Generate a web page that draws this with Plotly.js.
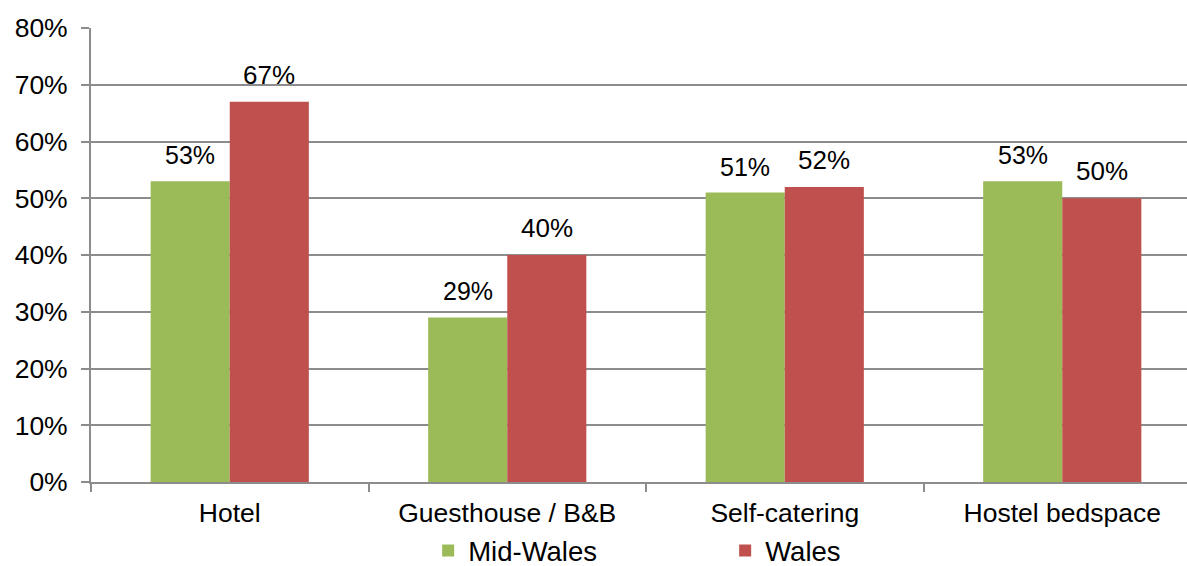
<!DOCTYPE html>
<html>
<head>
<meta charset="utf-8">
<script src="https://cdn.plot.ly/plotly-3.0.1.min.js"></script>
<style>
html,body{margin:0;padding:0;overflow:hidden;background:#fff;width:1187px;height:566px;}
#chart{width:1201px;height:575px;}
</style>
</head>
<body>
<div id="chart"></div>
<script>
var categories = ["Hotel", "Guesthouse / B&B", "Self-catering", "Hostel bedspace"];
var midWales = [0.53, 0.29, 0.51, 0.53];
var wales = [0.67, 0.40, 0.52, 0.50];
var seriesNames = ["Mid-Wales", "Wales"];
var yTicks = [0, 0.1, 0.2, 0.3, 0.4, 0.5, 0.6, 0.7, 0.8];
var yTickLabels = ["0%", "10%", "20%", "30%", "40%", "50%", "60%", "70%", "80%"];

var FONT = "Liberation Sans, Arial, sans-serif";

var traces = [
  {type: "bar", name: seriesNames[0], x: categories, y: midWales,
   marker: {color: "#9BBB59"}, hoverinfo: "none"},
  {type: "bar", name: seriesNames[1], x: categories, y: wales,
   marker: {color: "#C0504D"}, hoverinfo: "none"}
];

var annotations = [];
function pct(v){ return Math.round(v*100) + "%"; }
categories.forEach(function(c, i){
  annotations.push({x: c, y: midWales[i], xref: "x", yref: "y", text: pct(midWales[i]),
    showarrow: false, yanchor: "bottom", xshift: -39.5, yshift: 10,
    font: {family: FONT, size: 25, color: "#000"}});
  annotations.push({x: c, y: wales[i], xref: "x", yref: "y", text: pct(wales[i]),
    showarrow: false, yanchor: "bottom", xshift: 39.5, yshift: 10,
    font: {family: FONT, size: 26, color: "#000"}});
});

var layout = {
  width: 1201, height: 575,
  margin: {l: 91, r: 0, t: 28, b: 93},
  paper_bgcolor: "#fff", plot_bgcolor: "#fff",
  barmode: "group", bargap: 0.43, bargroupgap: 0,
  font: {family: FONT, size: 26, color: "#000"},
  showlegend: true,
  legend: {orientation: "h", xref: "container", yref: "container", x: 0.3565, xanchor: "left", y: 0, yanchor: "bottom",
           font: {family: FONT, size: 27.5, color: "#000"}, entrywidth: 252, entrywidthmode: "pixels",
           traceorder: "normal", borderwidth: 0, bgcolor: "rgba(0,0,0,0)"},
  xaxis: {type: "category", showline: true, linecolor: "#8c8c8c", linewidth: 2,
          ticks: "outside", tickson: "boundaries", ticklen: 8, tickcolor: "#8c8c8c", tickwidth: 2,
          ticklabelstandoff: 6,
          showgrid: false, tickfont: {family: FONT, size: 26.5, color: "#000"}, fixedrange: true},
  yaxis: {range: [0, 0.8], tickvals: yTicks, ticktext: yTickLabels, showline: true,
          linecolor: "#8c8c8c", linewidth: 2, ticks: "outside", ticklen: 8, tickcolor: "#8c8c8c", tickwidth: 2,
          ticklabelstandoff: 8,
          showgrid: true, gridcolor: "#8c8c8c", gridwidth: 2, zeroline: false,
          tickfont: {family: FONT, size: 26.5, color: "#000"}, fixedrange: true},
  annotations: annotations
};

Plotly.newPlot("chart", traces, layout, {displayModeBar: false, staticPlot: true});
</script>
</body>
</html>
